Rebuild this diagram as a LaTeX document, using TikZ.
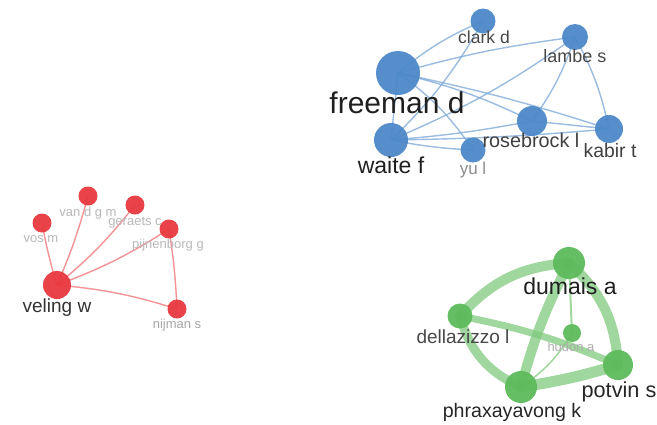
\documentclass[tikz,border=0pt]{standalone}
\usepackage{fontspec}
\setmainfont{Liberation Sans}
\usetikzlibrary{backgrounds}
\definecolor{bnode}{RGB}{76,136,200}
\definecolor{bedge}{RGB}{120,165,215}
\definecolor{rnode}{RGB}{232,56,62}
\definecolor{redge}{RGB}{240,120,124}
\definecolor{gnode}{RGB}{94,186,92}
\definecolor{gedge}{RGB}{128,202,126}
\begin{document}
\begin{tikzpicture}[x=1pt,y=-1pt,
  bn/.style={circle,fill=bnode,fill opacity=0.95,inner sep=0pt,minimum size=#1},
  rn/.style={circle,fill=rnode,fill opacity=0.95,inner sep=0pt,minimum size=#1},
  gn/.style={circle,fill=gnode,fill opacity=0.95,inner sep=0pt,minimum size=#1},
  be/.style={draw=bedge,line width=1.4pt,opacity=0.75},
  re/.style={draw=redge,line width=1.4pt,opacity=0.8},
  ge/.style={draw=gedge,line width=#1,opacity=0.75,line cap=round},
  lbl/.style={anchor=base,inner sep=0pt,text=#1},
  fs/.style={font=\fontsize{#1}{#1}\selectfont}]
\useasboundingbox (0,0) rectangle (657,424);

% ---- blue cluster: nodes
\node[bn=44] (freeman) at (398,73) {};
\node[bn=25] (clark) at (483,21) {};
\node[bn=26] (lambe) at (575,37) {};
\node[bn=34] (waite) at (391,140) {};
\node[bn=25] (yu) at (473,150) {};
\node[bn=30] (rosebrock) at (532,121) {};
\node[bn=28] (kabir) at (609,129) {};

% ---- red cluster: nodes
\node[rn=28] (veling) at (57,285) {};
\node[rn=19] (vos) at (42,223) {};
\node[rn=19] (vandgm) at (88,196) {};
\node[rn=19] (geraets) at (135,205) {};
\node[rn=19] (pijnenborg) at (169,229) {};
\node[rn=19] (nijman) at (177,309) {};

% ---- green cluster: nodes
\node[gn=32] (dumais) at (569,263) {};
\node[gn=25] (dellazizzo) at (460,316) {};
\node[gn=18] (hudon) at (572,333) {};
\node[gn=30] (potvin) at (618,365) {};
\node[gn=32] (phrax) at (521,387) {};

% ---- links (drawn on the background layer, under the circles)
\begin{scope}[on background layer]
  \path[be] (freeman.center) to[bend left=8] (clark.center);
  \path[be] (freeman.center) to[bend left=4] (lambe.center);
  \path[be] (freeman.center) -- (waite.center);
  \path[be] (freeman.center) to[bend left=10] (yu.center);
  \path[be] (freeman.center) to[bend left=6] (rosebrock.center);
  \path[be] (freeman.center) to[bend left=3] (kabir.center);
  \path[be] (waite.center) to[bend right=8] (clark.center);
  \path[be] (waite.center) to[bend right=6] (lambe.center);
  \path[be] (waite.center) to[bend right=3] (rosebrock.center);
  \path[be] (waite.center) to[bend right=4] (yu.center);
  \path[be] (waite.center) to[bend right=2] (kabir.center);
  \path[be] (rosebrock.center) to[bend right=8] (lambe.center);
  \path[be] (rosebrock.center) -- (kabir.center);
  \path[be] (lambe.center) to[bend left=8] (kabir.center);

  \path[re] (veling.center) to[bend left=3] (vos.center);
  \path[re] (veling.center) to[bend right=4] (vandgm.center);
  \path[re] (veling.center) to[bend right=6] (geraets.center);
  \path[re] (veling.center) to[bend right=6] (pijnenborg.center);
  \path[re] (veling.center) to[bend left=6] (nijman.center);
  \path[re] (pijnenborg.center) to[bend left=3] (nijman.center);

  \path[ge=10pt] (dellazizzo.center) to[bend left=22] (dumais.center);
  \path[ge=9pt] (dellazizzo.center) to[bend right=25] (phrax.center);
  \path[ge=10pt] (phrax.center) to[bend left=6] (dumais.center);
  \path[ge=10pt] (dumais.center) to[bend left=22] (potvin.center);
  \path[ge=11pt] (phrax.center) to[bend right=4] (potvin.center);
  \path[ge=7pt] (dellazizzo.center) to[bend left=6] (potvin.center);
  \path[ge=2pt] (dumais.center) -- (hudon.center);
  \path[ge=1.5pt] (phrax.center) to[bend right=12] (hudon.center);
\end{scope}

% ---- labels
\node[lbl={black!88},fs=30] (freemanL) at (397,113) {freeman d};
\node[lbl={black!88},fs=23] (waiteL) at (391,173) {waite f};
\node[lbl={black!72},fs=17.5] (clarkL) at (484,43) {clark d};
\node[lbl={black!72},fs=18] (lambeL) at (575,62) {lambe s};
\node[lbl={black!45},fs=17] (yuL) at (473,174) {yu l};
\node[lbl={black!75},fs=19.8] (rosebrockL) at (531,147) {rosebrock l};
\node[lbl={black!75},fs=19.4] (kabirL) at (610,157) {kabir t};

\node[lbl={black!80},fs=19] (velingL) at (57,312) {veling w};
\node[lbl={black!28},fs=13] (vosL) at (41,242) {vos m};
\node[lbl={black!28},fs=13] (vandgmL) at (88,216) {van d g m};
\node[lbl={black!28},fs=13] (geraetsL) at (135,225) {geraets c};
\node[lbl={black!28},fs=13] (pijnenborgL) at (168,248) {pijnenborg g};
\node[lbl={black!35},fs=13] (nijmanL) at (177,328) {nijman s};

\node[lbl={black!88},fs=23] (dumaisL) at (570,294) {dumais a};
\node[lbl={black!72},fs=19] (dellazizzoL) at (463,343) {dellazizzo l};
\node[lbl={black!32},fs=13] (hudonL) at (571,351) {hudon a};
\node[lbl={black!85},fs=21.7] (potvinL) at (619,397) {potvin s};
\node[lbl={black!85},fs=19.6] (phraxL) at (512,417) {phraxayavong k};
\end{tikzpicture}
\end{document}
